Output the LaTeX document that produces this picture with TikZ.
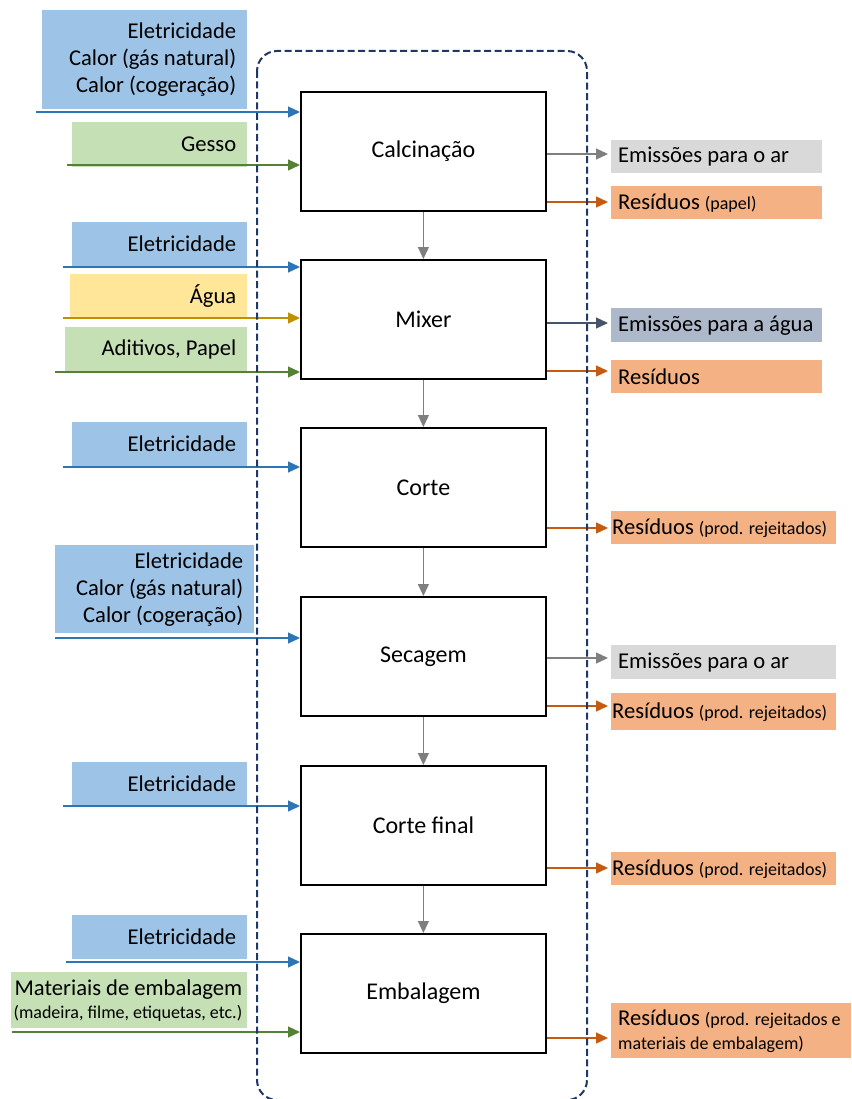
\documentclass[tikz,border=0pt]{standalone}
\usepackage{fontspec}
\setmainfont{Carlito}
\usetikzlibrary{arrows.meta}

% Farben (Fuellung / Linie)
\definecolor{blauFl}{HTML}{9DC3E6}
\definecolor{blauLn}{HTML}{2E75B6}
\definecolor{gruenFl}{HTML}{C5E0B4}
\definecolor{gruenLn}{HTML}{548235}
\definecolor{gelbFl}{HTML}{FFE699}
\definecolor{gelbLn}{HTML}{BF9000}
\definecolor{grauFl}{HTML}{D9D9D9}
\definecolor{grauLn}{HTML}{7F7F7F}
\definecolor{schieferFl}{HTML}{ADB9CA}
\definecolor{schieferLn}{HTML}{44546A}
\definecolor{orangeFl}{HTML}{F4B183}
\definecolor{orangeLn}{HTML}{C55A11}
\definecolor{rahmen}{HTML}{1F3864}

\newcommand{\gross}{\fontsize{22.6}{27}\selectfont}
\newcommand{\klein}{\fontsize{18}{23}\selectfont}

\tikzset{
  pfeil/.style={-{Triangle[length=12pt,width=11pt]}, line width=1.3pt},
  prozess/.style={draw, line width=1.8pt, fill=white, minimum width=245pt, minimum height=119pt, inner sep=0pt, anchor=north west, font=\fontsize{24}{28}\selectfont},
  kasten/.style={inner sep=0pt, anchor=north west},
  beschriftung/.style={inner sep=0pt, font=\gross},
}

\begin{document}
\begin{tikzpicture}[x=1pt, y=-1pt]
    \useasboundingbox (0,0) rectangle (851,1099);

    % Prozessschritte
    \foreach \nm/\yo/\txt in {p1/91/Calcinação, p2/259/Mixer, p3/427/Corte,
                              p4/596/Secagem, p5/765/Corte final, p6/933/Embalagem}
        \node[prozess] (\nm) at (300,\yo) {\txt};

    % Eingaenge links (Kasten + Text + Pfeil zum Prozess)
    \foreach \nm/\xa/\ya/\xb/\yb/\pad/\fl/\ln/\xs/\yp/\ziel/\txt in
        {e1/42/10/247/109/11/blauFl/blauLn/36/112/p1/{Eletricidade\\Calor (gás natural)\\Calor (cogeração)},
         e2/72/122/247/167/11/gruenFl/gruenLn/67/165/p1/{Gesso},
         e3/72/222/247/266/11/blauFl/blauLn/63/267/p2/{Eletricidade},
         e4/70/274/247/318/11/gelbFl/gelbLn/63/318/p2/{Água},
         e5/65/327/247/372/11/gruenFl/gruenLn/55/372/p2/{Aditivos, Papel},
         e6/72/422/247/466/11/blauFl/blauLn/63/467/p3/{Eletricidade},
         e7/55/545/254/633/11/blauFl/blauLn/55/638/p4/{Eletricidade\\Calor (gás natural)\\Calor (cogeração)},
         e8/72/762/247/806/11/blauFl/blauLn/63/806/p5/{Eletricidade},
         e9/72/915/247/959/11/blauFl/blauLn/66/962/p6/{Eletricidade},
         e10/11/972/247/1028/5/gruenFl/gruenLn/12/1032/p6/{Materiais de embalagem\\[-4pt]{\klein (madeira, filme, etiquetas, etc.)}}}
    {
        \pgfmathsetmacro{\bw}{\xb-\xa}
        \pgfmathsetmacro{\bh}{\yb-\ya}
        \node[kasten, fill=\fl, minimum width=\bw pt, minimum height=\bh pt] (\nm) at (\xa,\ya) {};
        \node[beschriftung, anchor=east, align=right, xshift=-\pad pt] (\nm-t) at (\nm.east) {\txt};
        \coordinate (\nm-s) at (\xs,\yp);
        \draw[pfeil, \ln] (\nm-s) -- (\nm-s -| \ziel.west);
    }

    % Ausgaenge rechts (Pfeil vom Prozess + Kasten + Text)
    \foreach \nm/\xa/\ya/\xb/\yb/\pad/\fl/\ln/\yp/\quelle/\txt in
        {a1/611/140/822/173/7/grauFl/grauLn/154/p1/{Emissões para o ar},
         a2/611/186/822/219/7/orangeFl/orangeLn/202/p1/{Resíduos {\klein (papel)}},
         a3/611/308/822/342/7/schieferFl/schieferLn/323/p2/{Emissões para a água},
         a4/611/360/822/393/7/orangeFl/orangeLn/371/p2/{Resíduos},
         a5/611/511/836/544/1/orangeFl/orangeLn/528/p3/{Resíduos {\klein (prod. rejeitados)}},
         a6/611/645/836/679/7/grauFl/grauLn/658/p4/{Emissões para o ar},
         a7/611/693/836/730/1/orangeFl/orangeLn/706/p4/{Resíduos {\klein (prod. rejeitados)}},
         a8/611/852/836/885/1/orangeFl/orangeLn/868/p5/{Resíduos {\klein (prod. rejeitados)}},
         a9/611/1003/851/1058/7/orangeFl/orangeLn/1038/p6/{Resíduos {\klein (prod. rejeitados e}\\[-3pt]{\klein materiais de embalagem)}}}
    {
        \pgfmathsetmacro{\bw}{\xb-\xa}
        \pgfmathsetmacro{\bh}{\yb-\ya}
        \node[kasten, fill=\fl, minimum width=\bw pt, minimum height=\bh pt] (\nm) at (\xa,\ya) {};
        \node[beschriftung, anchor=west, align=left, xshift=\pad pt] (\nm-t) at (\nm.west) {\txt};
        \coordinate (\nm-z) at (608,\yp);
        \draw[pfeil, \ln] (\nm-z -| \quelle.east) -- (\nm-z);
    }

    % Systemgrenze
    \draw[rahmen, line width=2pt, dash pattern=on 7pt off 3.5pt, rounded corners=20pt] (257,51) rectangle (587,1100);

    % Materialfluss zwischen den Schritten
    \foreach \von/\nach in {p1/p2, p2/p3, p3/p4, p4/p5, p5/p6}
        \draw[pfeil, grauLn, line width=1.2pt] (\von.south) -- (\nach.north);

\end{tikzpicture}
\end{document}
